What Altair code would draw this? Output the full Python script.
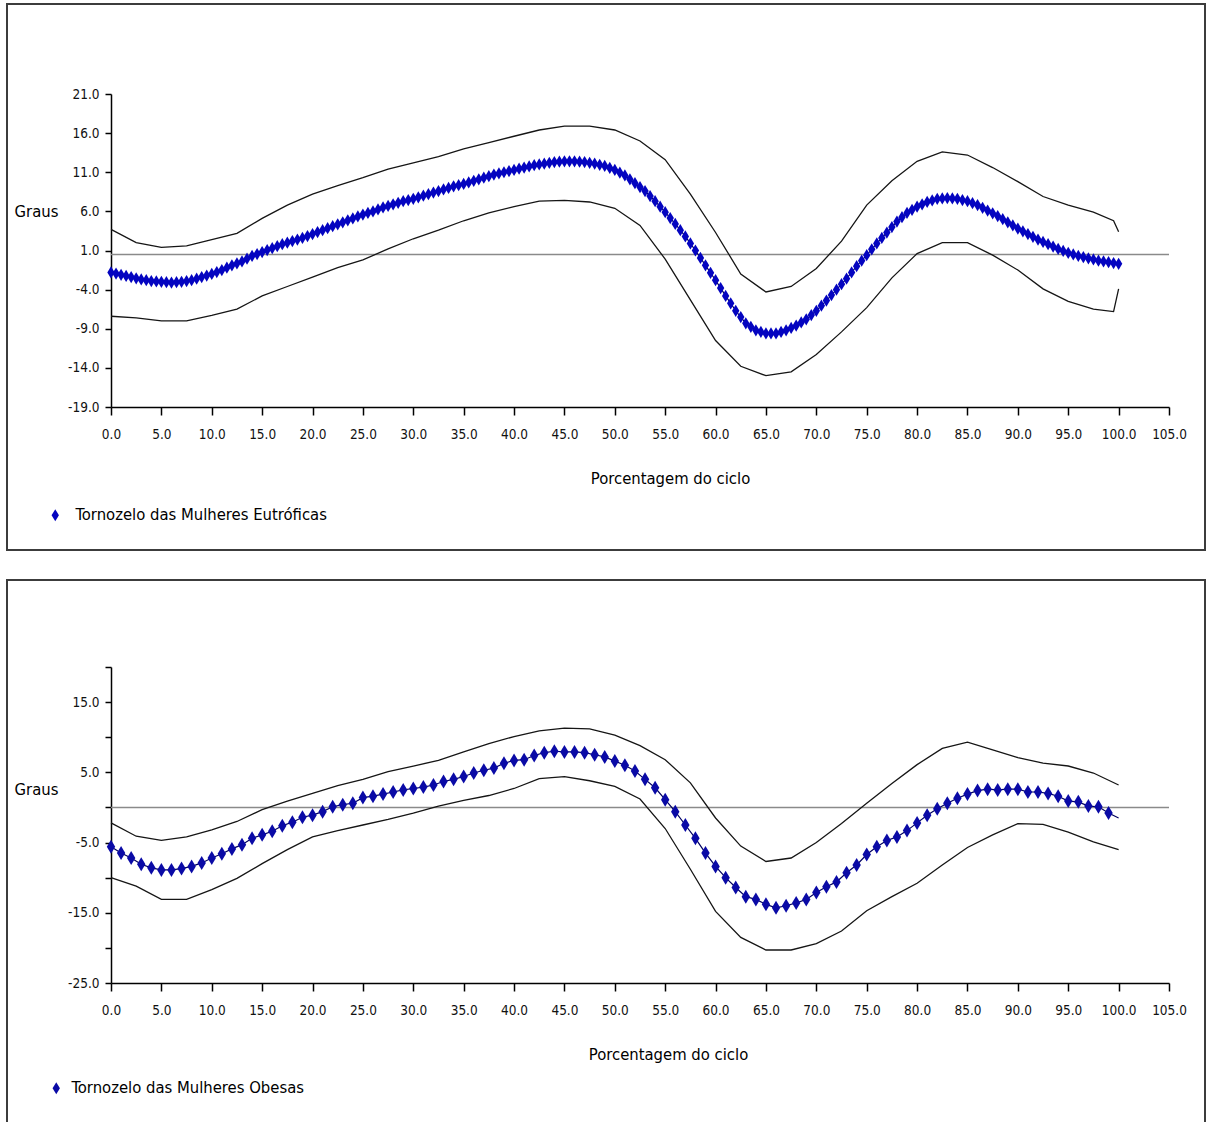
import altair as alt
import pandas as pd

FONT = "Liberation Sans Narrow, DejaVu Sans Condensed, Arial Narrow, sans-serif"
W, H = 1208, 1122

# ---------------- data: top chart (Eutróficas) ----------------
top_x = [i / 2 for i in range(201)]
top_mean = [
    -1.8, -1.95, -2.1, -2.25, -2.4, -2.55, -2.7, -2.8, -2.9, -2.95,
    -3.0, -3.05, -3.1, -3.05, -3.0, -2.9, -2.8, -2.6, -2.4, -2.2,
    -2.0, -1.75, -1.5, -1.2, -0.9, -0.65, -0.4, -0.05, 0.3, 0.55,
    0.8, 1.05, 1.3, 1.55, 1.8, 2.0, 2.2, 2.4, 2.6, 2.85,
    3.1, 3.35, 3.6, 3.85, 4.1, 4.35, 4.6, 4.85, 5.1, 5.35,
    5.6, 5.8, 6.0, 6.25, 6.5, 6.7, 6.9, 7.1, 7.3, 7.45,
    7.6, 7.8, 8.0, 8.2, 8.4, 8.6, 8.8, 9.0, 9.2, 9.35,
    9.5, 9.7, 9.9, 10.1, 10.3, 10.5, 10.7, 10.85, 11.0, 11.15,
    11.3, 11.45, 11.6, 11.75, 11.9, 12.0, 12.1, 12.2, 12.3, 12.35,
    12.4, 12.4, 12.4, 12.35, 12.3, 12.2, 12.1, 11.95, 11.8, 11.55,
    11.3, 10.95, 10.6, 10.1, 9.6, 9.1, 8.6, 7.95, 7.3, 6.6,
    5.9, 5.15, 4.4, 3.6, 2.8, 1.9, 1.0, 0.05, -0.9, -1.85,
    -2.8, -3.8, -4.8, -5.75, -6.7, -7.5, -8.3, -8.75, -9.2, -9.4,
    -9.6, -9.6, -9.6, -9.4, -9.2, -8.9, -8.6, -8.2, -7.8, -7.25,
    -6.7, -6.05, -5.4, -4.7, -4.0, -3.3, -2.6, -1.8, -1.0, -0.3,
    0.4, 1.15, 1.9, 2.6, 3.3, 4.0, 4.7, 5.25, 5.8, 6.2,
    6.6, 6.9, 7.2, 7.4, 7.6, 7.65, 7.7, 7.65, 7.6, 7.45,
    7.3, 7.05, 6.8, 6.45, 6.1, 5.75, 5.4, 5.0, 4.6, 4.2,
    3.8, 3.45, 3.1, 2.75, 2.4, 2.1, 1.8, 1.5, 1.2, 0.95,
    0.7, 0.5, 0.3, 0.15, 0.0, -0.15, -0.3, -0.4, -0.5, -0.6,
    -0.7,
]
top_band_x = [0, 2.5, 5, 7.5, 10, 12.5, 15, 17.5, 20, 22.5, 25, 27.5, 30,
              32.5, 35, 37.5, 40, 42.5, 45, 47.5, 50, 52.5, 55, 57.5, 60,
              62.5, 65, 67.5, 70, 72.5, 75, 77.5, 80, 82.5, 85, 87.5, 90,
              92.5, 95, 97.5, 99.5, 100]
top_upper = [3.7, 2.0, 1.4, 1.6, 2.4, 3.2, 5.1, 6.8, 8.2, 9.3, 10.3, 11.4, 12.2,
             13.0, 14.0, 14.8, 15.6, 16.4, 16.9, 16.9, 16.4, 15.0, 12.6, 8.2, 3.3,
             -2.0, -4.3, -3.6, -1.3, 2.2, 6.8, 9.9, 12.4, 13.6, 13.2, 11.6, 9.8,
             7.9, 6.8, 5.9, 4.8, 3.4]
top_lower = [-7.4, -7.6, -8.0, -8.0, -7.3, -6.5, -4.8, -3.6, -2.4, -1.2, -0.2, 1.2, 2.5,
             3.6, 4.8, 5.8, 6.6, 7.3, 7.4, 7.2, 6.4, 4.2, -0.1, -5.3, -10.5,
             -13.8, -15.0, -14.5, -12.3, -9.4, -6.3, -2.5, 0.6, 2.0, 2.0, 0.4, -1.5,
             -3.9, -5.5, -6.5, -6.8, -3.9]
top_ref = 0.5

# ---------------- data: bottom chart (Obesas) ----------------
bot_x = list(range(101))
bot_mean = [
    -5.6, -6.5, -7.2, -8.1, -8.6, -8.9, -8.9, -8.7, -8.4, -7.9,
    -7.2, -6.6, -5.9, -5.3, -4.4, -3.9, -3.4, -2.6, -2.1, -1.4,
    -1.1, -0.6, 0.1, 0.4, 0.6, 1.4, 1.6, 1.9, 2.2, 2.5,
    2.7, 2.9, 3.2, 3.7, 4.0, 4.4, 4.9, 5.3, 5.6, 6.3,
    6.7, 6.8, 7.4, 7.8, 8.0, 7.9, 7.9, 7.8, 7.5, 7.2,
    6.6, 6.0, 5.2, 4.0, 2.8, 1.1, -0.6, -2.5, -4.4, -6.5,
    -8.4, -10.0, -11.4, -12.7, -13.1, -13.8, -14.3, -14.0, -13.6, -13.1,
    -12.1, -11.3, -10.6, -9.3, -8.2, -6.7, -5.6, -4.7, -4.2, -3.3,
    -2.2, -1.1, -0.2, 0.6, 1.3, 1.9, 2.4, 2.6, 2.5, 2.6,
    2.6, 2.2, 2.2, 2.0, 1.6, 0.9, 0.8, 0.2, 0.1, -0.8,
    -1.5,
]
bot_band_x = [0, 2.5, 5, 7.5, 10, 12.5, 15, 17.5, 20, 22.5, 25, 27.5, 30,
              32.5, 35, 37.5, 40, 42.5, 45, 47.5, 50, 52.5, 55, 57.5, 60,
              62.5, 65, 67.5, 70, 72.5, 75, 77.5, 80, 82.5, 85, 87.5, 90,
              92.5, 95, 97.5, 100]
bot_upper = [-2.2, -4.1, -4.7, -4.2, -3.2, -2.0, -0.3, 0.9, 2.0, 3.1, 4.0, 5.1, 5.9,
             6.7, 7.9, 9.1, 10.1, 10.9, 11.3, 11.2, 10.3, 8.8, 6.8, 3.5, -1.5,
             -5.5, -7.7, -7.2, -5.0, -2.3, 0.6, 3.4, 6.1, 8.4, 9.3, 8.2, 7.1,
             6.3, 5.9, 4.9, 3.2]
bot_lower = [-10.0, -11.2, -13.1, -13.1, -11.7, -10.1, -8.0, -6.0, -4.2, -3.3, -2.5, -1.7, -0.8,
             0.2, 1.0, 1.7, 2.7, 4.1, 4.4, 3.8, 3.0, 1.2, -3.0, -8.8, -14.8,
             -18.5, -20.3, -20.3, -19.4, -17.6, -14.7, -12.7, -10.8, -8.2, -5.7, -3.9, -2.3,
             -2.4, -3.5, -4.9, -6.0]
bot_ref = 0.0

x_ticks = list(range(0, 106, 5))
top_y_ticks = [-19, -14, -9, -4, 1, 6, 11, 16, 21]
bot_y_ticks = list(range(-25, 21, 5))

series_top = "Tornozelo das Mulheres Eutróficas"
series_bot = "Tornozelo das Mulheres Obesas"

DIAMOND = "M0,-1L0.6,0L0,1L-0.6,0Z"
SIGNED = "(datum.value < 0 ? '-' : '') + format(abs(datum.value), '.1f')"

TICK_FS = 13.5
TITLE_FS = 16.5


def panel(mean_x, mean_y, band_x, upper, lower, ref, series, ydom, yrange, yticks,
          ylabel_expr, axis_y_px, graus_y, title_x, marker_size, marker_color,
          marker_max_x, legend_x, legend_y, legend_offset):
    xs = alt.Scale(domain=[0, 105], range=[111, 1169], nice=False, zero=False)
    ys = alt.Scale(domain=ydom, range=yrange, nice=False, zero=False)
    xaxis = alt.Axis(orient="bottom", offset=axis_y_px - H, values=x_ticks,
                     labelExpr=SIGNED, title="Porcentagem do ciclo",
                     titleX=title_x, titleY=71, titleAlign="center",
                     titleBaseline="middle", grid=False, tickSize=8,
                     labelPadding=12, domainColor="#000000", tickColor="#000000",
                     domainWidth=1.5, tickWidth=1.5, labelFont=FONT,
                     labelFontSize=TICK_FS, labelColor="#111111", titleFont=FONT,
                     titleFontSize=TITLE_FS, titleFontWeight="normal",
                     titleColor="#000000", labelFlush=False, labelOverlap=False)
    yaxis = alt.Axis(orient="left", offset=-111, values=yticks,
                     labelExpr=ylabel_expr, title="Graus", titleAngle=0,
                     titleX=-75, titleY=graus_y, titleAlign="center",
                     titleBaseline="middle", grid=False, tickSize=6,
                     labelPadding=6, domainColor="#000000", tickColor="#000000",
                     domainWidth=1.5, tickWidth=1.5, labelFont=FONT,
                     labelFontSize=TICK_FS, labelColor="#111111", titleFont=FONT,
                     titleFontSize=16.5, titleFontWeight="normal",
                     titleColor="#000000", labelFlush=False, labelOverlap=False)

    def X(f="x"):
        return alt.X(f"{f}:Q", scale=xs, axis=xaxis)

    def Y(f="y"):
        return alt.Y(f"{f}:Q", scale=ys, axis=yaxis)

    ref_df = pd.DataFrame({"x": [0], "x2": [105], "y": [ref]})
    up_df = pd.DataFrame({"x": band_x, "y": upper})
    lo_df = pd.DataFrame({"x": band_x, "y": lower})
    mean_df = pd.DataFrame({"x": mean_x, "y": mean_y, "serie": series})

    ref_rule = alt.Chart(ref_df).mark_rule(color="#8a8a8a", strokeWidth=1.5).encode(
        x=X(), x2="x2:Q", y=Y())
    up_line = alt.Chart(up_df).mark_line(color="#151515", strokeWidth=1.3).encode(
        x=X(), y=Y())
    lo_line = alt.Chart(lo_df).mark_line(color="#151515", strokeWidth=1.3).encode(
        x=X(), y=Y())
    mean_line = alt.Chart(mean_df).mark_line(color="#000060", strokeWidth=1.2).encode(
        x=X(), y=Y())
    markers = alt.Chart(mean_df).transform_filter(
        f"datum.x <= {marker_max_x}"
    ).mark_point(shape=DIAMOND, filled=True, size=marker_size, opacity=1,
                 strokeWidth=0).encode(
        x=X(), y=Y(),
        color=alt.Color("serie:N", scale=alt.Scale(range=[marker_color]),
                        legend=alt.Legend(orient="none", legendX=legend_x,
                                          legendY=legend_y, title=None,
                                          symbolType=DIAMOND, symbolSize=150,
                                          symbolStrokeWidth=0, labelFont=FONT,
                                          labelFontSize=TITLE_FS, labelColor="#000000",
                                          labelLimit=0, labelOffset=legend_offset,
                                          padding=0)),
    )
    return alt.layer(ref_rule, up_line, lo_line, mean_line, markers)


top = panel(top_x, top_mean, top_band_x, top_upper, top_lower, top_ref, series_top,
            [-19, 21], [407, 94], top_y_ticks, SIGNED, 407, 211, 670, 150,
            "#0404c0", 100, 47, 507, 12)

bot_label = "abs(datum.value) % 10 == 5 ? " + SIGNED + " : ''"
bot = panel(bot_x, bot_mean, bot_band_x, bot_upper, bot_lower, bot_ref, series_bot,
            [-25, 20], [983, 667], bot_y_ticks, bot_label, 983, 789, 668, 196,
            "#0a0aa6", 99, 48, 1080, 7)

frame_df = pd.DataFrame({"d": [0]})
frame_top = alt.Chart(frame_df).mark_rect(filled=False, stroke="#3c3c3c",
                                          strokeWidth=2).encode(
    x=alt.value(7), x2=alt.value(1205), y=alt.value(4), y2=alt.value(550))
frame_bot = alt.Chart(frame_df).mark_rect(filled=False, stroke="#3c3c3c",
                                          strokeWidth=2).encode(
    x=alt.value(7), x2=alt.value(1205), y=alt.value(580), y2=alt.value(1135))

chart = alt.layer(frame_top, frame_bot, top, bot).resolve_scale(
    x="independent", y="independent", color="independent"
).properties(
    width=W, height=H, padding=0,
    autosize=alt.AutoSizeParams(type="none"),
    background="#ffffff",
).configure_view(stroke=None)

chart.save("out.html", embed_options={"renderer": "svg", "actions": False})
